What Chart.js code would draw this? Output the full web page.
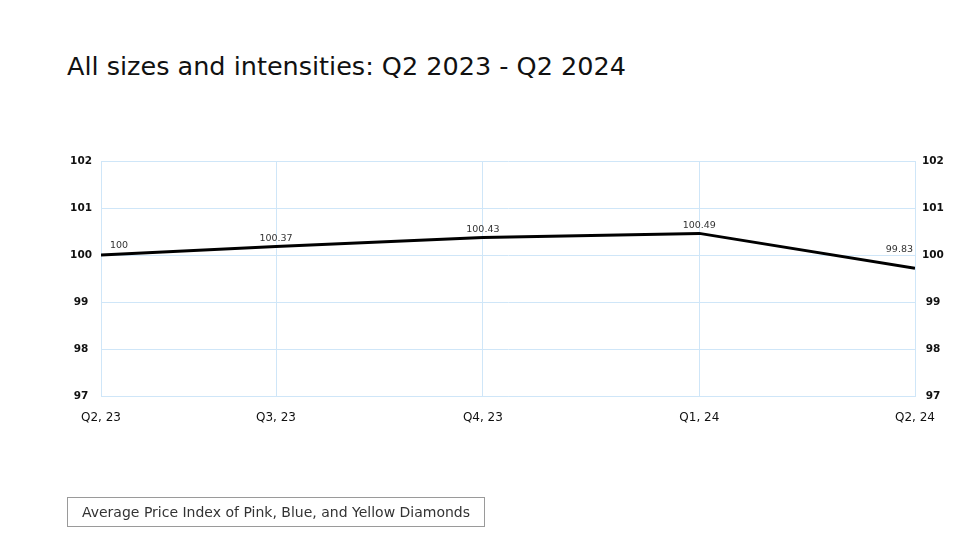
<!DOCTYPE html>
<html>
<head>
<meta charset="utf-8">
<script src="https://cdn.jsdelivr.net/npm/chart.js@4.4.1/dist/chart.umd.min.js"></script>
<style>
  html, body { margin: 0; padding: 0; background: #fff; }
  body { width: 979px; height: 547px; position: relative; overflow: hidden; font-family: "DejaVu Sans", sans-serif; }
  #title { position: absolute; left: 67px; top: 51px; font-size: 25.5px; color: #111; white-space: nowrap; }
  #wrap { position: absolute; left: 0; top: 0; width: 979px; height: 547px; }
  #legend { position: absolute; left: 67px; top: 497px; width: 418px; height: 30px; box-sizing: border-box;
            border: 1px solid #9a9a9a; font-size: 14px; color: #333; text-align: center; line-height: 28px; white-space: nowrap; }
</style>
</head>
<body>
<div id="title">All sizes and intensities: Q2 2023 - Q2 2024</div>
<div id="wrap"><canvas id="priceChart"></canvas></div>
<div id="legend">Average Price Index of Pink, Blue, and Yellow Diamonds</div>
<script>
const quarters = ['Q2, 23', 'Q3, 23', 'Q4, 23', 'Q1, 24', 'Q2, 24'];
const monthOffset = [0, 2.58, 5.63, 8.82, 12];
// line as drawn
const indexLine = [100, 100.18, 100.37, 100.46, 99.72];
// numbers printed above the line
const pointLabels = ['100', '100.37', '100.43', '100.49', '99.83'];
const yTicks = [97, 98, 99, 100, 101, 102];

const gridColor = '#cfe6f8';
const tickFont = { family: 'DejaVu Sans', size: 10.5, weight: 'bold' };

// draws the printed values above the line
const valueLabels = {
    id: 'valueLabels',
    afterDatasetsDraw(chart) {
        const ctx = chart.ctx;
        const pts = chart.getDatasetMeta(0).data;
        ctx.save();
        ctx.font = '9.5px "DejaVu Sans"';
        ctx.fillStyle = '#333';
        ctx.textBaseline = 'bottom';
        pts.forEach((p, i) => {
            let x = p.x, y = p.y - 3;
            ctx.textAlign = 'center';
            if (i === 0) { ctx.textAlign = 'left'; x += 9; y = p.y - 5; }
            if (i === pts.length - 1) { ctx.textAlign = 'right'; x -= 2; y = p.y - 14; }
            ctx.fillText(pointLabels[i], x, y);
        });
        ctx.restore();
    }
};

const yAxis = (pos, w) => ({
    type: 'linear',
    position: pos,
    min: 97,
    max: 102,
    afterBuildTicks: s => { s.ticks = yTicks.map(v => ({ value: v })); },
    afterFit: s => { s.width = w; },
    grid: { color: gridColor, drawTicks: false, display: pos === 'left' },
    border: { color: gridColor },
    ticks: { font: tickFont, color: '#111', padding: pos === 'left' ? 9 : 7, crossAlign: 'center' }
});

new Chart(document.getElementById('priceChart'), {
    type: 'line',
    data: {
        datasets: [{
            label: 'Average Price Index of Pink, Blue, and Yellow Diamonds',
            data: monthOffset.map((m, i) => ({ x: m, y: indexLine[i] })),
            borderColor: '#000',
            borderWidth: 3,
            pointRadius: 0,
            tension: 0,
            fill: false
        }]
    },
    options: {
        responsive: true,
        maintainAspectRatio: false,
        animation: false,
        layout: { padding: { top: 161, bottom: 111, left: 0, right: 0 } },
        plugins: {
            legend: { display: false },
            tooltip: { enabled: false }
        },
        scales: {
            x: {
                type: 'linear',
                min: 0,
                max: 12,
                afterBuildTicks: s => { s.ticks = monthOffset.map(v => ({ value: v })); },
                afterFit: s => { s.height = 40; },
                grid: { color: gridColor, drawTicks: false },
                border: { color: gridColor },
                ticks: {
                    font: { family: 'DejaVu Sans', size: 12 },
                    color: '#111',
                    padding: 15,
                    maxRotation: 0,
                    callback: (v, i) => quarters[i]
                }
            },
            y: yAxis('left', 101),
            y2: yAxis('right', 64)
        }
    },
    plugins: [valueLabels]
});
</script>
</body>
</html>
